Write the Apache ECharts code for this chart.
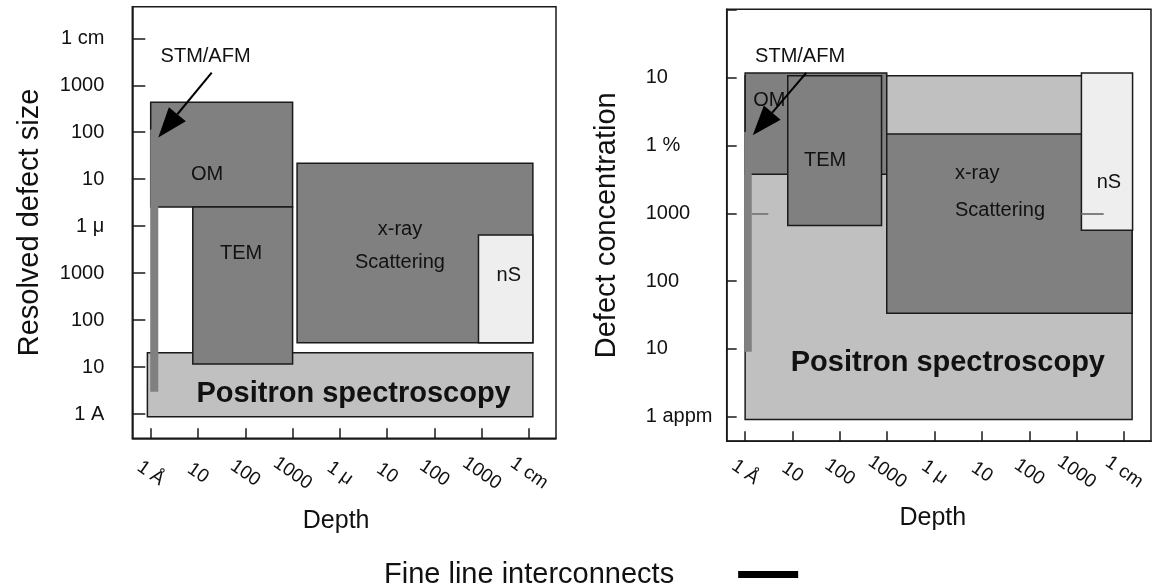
<!DOCTYPE html>
<html>
<head>
<meta charset="utf-8">
<script src="https://cdn.jsdelivr.net/npm/echarts@6/dist/echarts.min.js"></script>
<style>
  html, body { margin: 0; padding: 0; background: #fff; }
  #chart { width: 1157px; height: 583px; }
</style>
</head>
<body>
<div id="chart"></div>
<script>
// tick labels, one per decade
const depthTicks = ['1 Å', '10', '100', '1000', '1 μ', '10', '100', '1000', '1 cm'];
const sizeTicks = ['1 A', '10', '100', '1000', '1 μ', '10', '100', '1000', '1 cm'];
const concTicks = ['1 appm', '10', '100', '1000', '1 %', '10', ''];

// techniques, drawn in this order (later ones on top)
const techniques = ['Positron spectroscopy', 'OM', 'TEM', 'x-ray\nScattering', 'nS', 'STM/AFM'];

// left panel: [depth from, depth to, size from, size to] in decades above 1 Å
const sizeBoxes = [
  [-0.07, 8.08, -0.06, 1.305],
  [0, 3.0, 4.41, 6.64],
  [0.89, 3.0, 1.065, 4.41],
  [3.095, 8.08, 1.52, 5.34],
  [6.93, 8.08, 1.52, 3.81],
  [-0.01, 0.16, 0.475, 6.06]
];
const sizeLabelAt = [[4.29, 0.43], [1.19, 5.11], [1.91, 3.41], [5.27, 3.57], [7.57, 2.94], [1.16, 7.61]];

// right panel: [depth from, depth to, conc from, conc to], conc in decades above 1 appm
const concBoxes = [
  [0, 8.17, -0.04, 5.03],
  [0, 2.99, 3.575, 5.07],
  [0.90, 2.88, 2.82, 5.03],
  [2.99, 8.17, 1.525, 4.17],
  [7.10, 8.18, 2.75, 5.07],
  [-0.02, 0.14, 0.96, 4.2]
];
const concLabelAt = [[4.28, 0.79], [0.51, 4.67], [1.69, 3.78], [4.43, 3.32], [7.68, 3.45], [1.16, 5.31]];

// STM/AFM pointers: [from depth, from y, to depth, to y]
const sizeArrow = [1.29, 7.27, 0.16, 5.89];
const concArrow = [1.29, 5.07, 0.16, 4.15];
// short grey marks at the 1000 appm level
const concMarks = [[0.14, 0.49], [7.10, 7.57]];

const fills = {
  'Positron spectroscopy': '#c0c0c0',
  'OM': '#808080',
  'TEM': '#808080',
  'x-ray\nScattering': '#808080',
  'nS': '#eeeeee',
  'STM/AFM': '#808080'
};
const ink = '#111';
const font = '"Liberation Sans", Arial, Helvetica, sans-serif';

function boxRenderer(labelAt, xrayAlign, xrayLine) {
  return function (params, api) {
    const i = params.dataIndex;
    const name = techniques[i];
    const a = api.coord([api.value(0), api.value(3)]);
    const b = api.coord([api.value(1), api.value(2)]);
    const isBar = name === 'STM/AFM';
    const isPos = name === 'Positron spectroscopy';
    const isXray = name.indexOf('x-ray') === 0;
    const t = api.coord(labelAt[i]);
    return {
      type: 'group',
      children: [
        {
          type: 'rect',
          shape: { x: a[0], y: a[1], width: b[0] - a[0], height: b[1] - a[1] },
          style: { fill: fills[name], stroke: isBar ? null : '#1a1a1a', lineWidth: 1.5 }
        },
        {
          type: 'text',
          x: t[0],
          y: t[1],
          style: {
            text: name,
            fill: ink,
            align: isXray ? xrayAlign : 'center',
            verticalAlign: 'middle',
            fontFamily: font,
            fontSize: isPos ? 29 : 20,
            fontWeight: isPos ? 'bold' : 'normal',
            lineHeight: isXray ? xrayLine : undefined
          }
        }
      ]
    };
  };
}

function arrowRenderer(params, api) {
  const p = api.coord([api.value(0), api.value(1)]);
  const q = api.coord([api.value(2), api.value(3)]);
  const dx = q[0] - p[0], dy = q[1] - p[1];
  const len = Math.sqrt(dx * dx + dy * dy);
  const ux = dx / len, uy = dy / len;
  const head = 30, half = 11;
  const bx = q[0] - ux * head, by = q[1] - uy * head;
  return {
    type: 'group',
    children: [
      { type: 'line', shape: { x1: p[0], y1: p[1], x2: bx, y2: by }, style: { stroke: '#000', lineWidth: 2 } },
      {
        type: 'polygon',
        shape: { points: [[q[0], q[1]], [bx - uy * half, by + ux * half], [bx + uy * half, by - ux * half]] },
        style: { fill: '#000' }
      }
    ]
  };
}

const axisLine = { show: true, onZero: false, lineStyle: { color: '#1a1a1a', width: 1.5 } };
const idx = arr => arr.map((_, i) => i);

function depthAxis(gridIndex, margin, nameGap, shift) {
  return {
    type: 'value', gridIndex: gridIndex, min: -0.389, max: 8.569,
    name: 'Depth', nameLocation: 'middle', nameGap: nameGap,
    nameTextStyle: { fontSize: 25, color: ink, fontFamily: font, padding: [0, shift, 0, 0] },
    axisLine: axisLine,
    axisTick: { show: true, inside: true, length: 10, customValues: idx(depthTicks), lineStyle: { color: '#1a1a1a', width: 1.5 } },
    axisLabel: {
      customValues: idx(depthTicks), formatter: v => depthTicks[Math.round(v)],
      rotate: -35, align: 'center', verticalAlign: 'middle', margin: margin,
      fontSize: 19, color: ink, fontFamily: font
    },
    splitLine: { show: false }
  };
}

const chart = echarts.init(document.getElementById('chart'));
chart.setOption({
  animation: false,
  backgroundColor: '#fff',
  textStyle: { fontFamily: font },
  grid: [
    { left: 132.3, top: 6.7, width: 423.7, height: 431.6, show: true, borderColor: '#1a1a1a', borderWidth: 1.5 },
    { left: 726.7, top: 9.3, width: 424.3, height: 431.9, show: true, borderColor: '#1a1a1a', borderWidth: 1.5 }
  ],
  legend: {
    data: ['Fine line interconnects'], left: 384, top: 560, padding: 0,
    align: 'right', icon: 'rect', itemWidth: 60, itemHeight: 7, selectedMode: false,
    textStyle: { fontSize: 29, color: ink, fontFamily: font, padding: [0, 59, 0, 0] }
  },
  xAxis: [depthAxis(0, 35, 70, 16), depthAxis(1, 31, 64, 12)],
  yAxis: [
    {
      type: 'value', gridIndex: 0, min: -0.517, max: 8.673,
      name: 'Resolved defect size', nameLocation: 'middle', nameGap: 88,
      nameTextStyle: { fontSize: 29, color: ink, fontFamily: font },
      axisLine: axisLine,
      axisTick: { show: true, inside: true, length: 13, customValues: idx(sizeTicks), lineStyle: { color: '#1a1a1a', width: 1.5 } },
      axisLabel: { customValues: idx(sizeTicks), formatter: v => sizeTicks[Math.round(v)], margin: 28, fontSize: 20, color: ink, fontFamily: font },
      splitLine: { show: false }
    },
    {
      type: 'value', gridIndex: 1, min: -0.361, max: 6.009,
      name: 'Defect concentration', nameLocation: 'middle', nameGap: 105,
      nameTextStyle: { fontSize: 29, color: ink, fontFamily: font },
      axisLine: axisLine,
      axisTick: { show: true, inside: true, length: 10, customValues: idx(concTicks), lineStyle: { color: '#1a1a1a', width: 1.5 } },
      axisLabel: { customValues: idx(concTicks), formatter: v => concTicks[Math.round(v)], margin: 81, align: 'left', fontSize: 20, color: ink, fontFamily: font },
      splitLine: { show: false }
    }
  ],
  series: [
    {
      type: 'custom', name: 'size', xAxisIndex: 0, yAxisIndex: 0, z: 2,
      renderItem: boxRenderer(sizeLabelAt, 'center', 33), data: sizeBoxes
    },
    {
      type: 'custom', name: 'conc', xAxisIndex: 1, yAxisIndex: 1, z: 2,
      renderItem: boxRenderer(concLabelAt, 'left', 37), data: concBoxes
    },
    {
      type: 'lines', coordinateSystem: 'cartesian2d', xAxisIndex: 1, yAxisIndex: 1, z: 3,
      lineStyle: { color: '#808080', width: 2, opacity: 1 },
      data: concMarks.map(m => ({ coords: [[m[0], 3], [m[1], 3]] }))
    },
    {
      type: 'custom', name: 'arrows-size', xAxisIndex: 0, yAxisIndex: 0, z: 4,
      renderItem: arrowRenderer, data: [sizeArrow]
    },
    {
      type: 'custom', name: 'arrows-conc', xAxisIndex: 1, yAxisIndex: 1, z: 4,
      renderItem: arrowRenderer, data: [concArrow]
    },
    {
      type: 'line', name: 'Fine line interconnects', xAxisIndex: 0, yAxisIndex: 0,
      color: '#000', data: []
    }
  ]
});
</script>
</body>
</html>
